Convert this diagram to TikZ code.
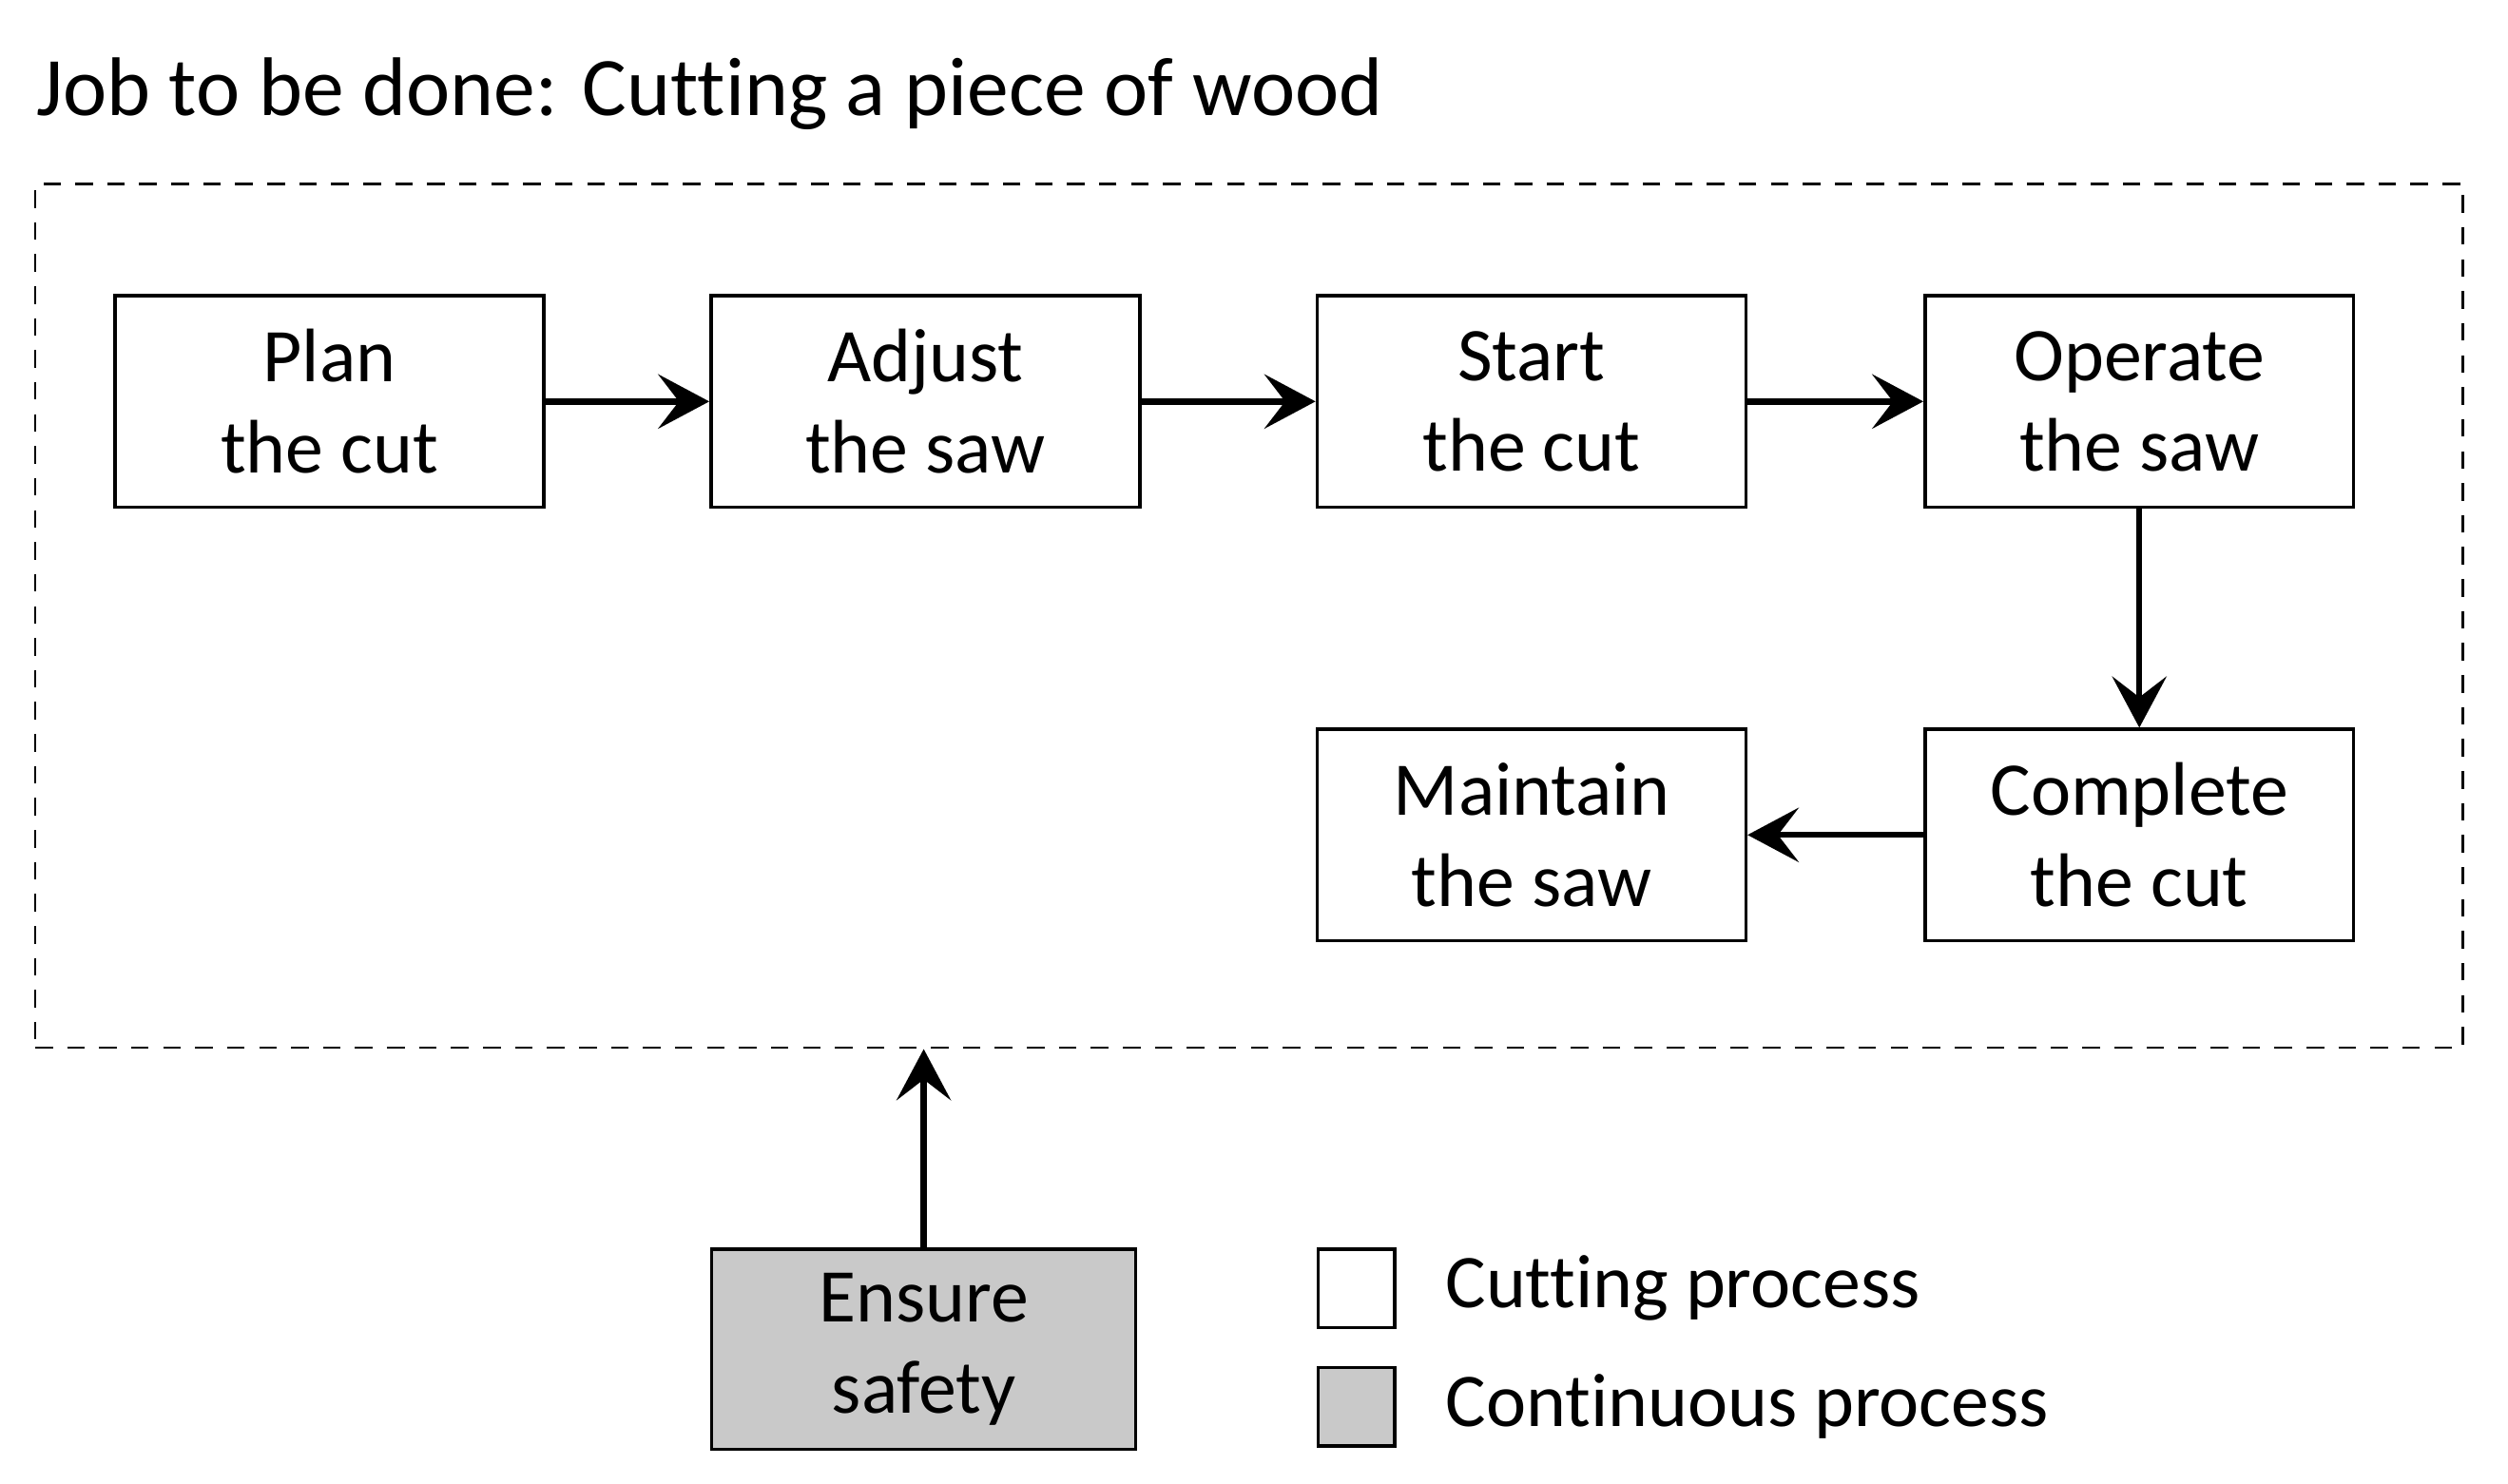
\documentclass[tikz,border=0pt]{standalone}
\usepackage{fontspec}
\setmainfont{Carlito}[Ligatures=NoCommon]
\usetikzlibrary{arrows.meta,positioning}
\definecolor{safetygray}{gray}{0.79}
\tikzset{
    procbox/.style={shape=rectangle,draw=black,line width=0.6pt,minimum width=2.68cm,minimum height=1.32cm,
        align=center,inner sep=0pt,font=\fontsize{13.5}{16.2}\selectfont},
    flow/.style={-{Stealth[length=3.2mm,width=3.4mm,inset=1.3mm]},line width=1.1pt},
    keytext/.style={inner sep=0pt,font=\fontsize{13.5}{16.2}\selectfont},
}
\begin{document}
\begin{tikzpicture}
            \useasboundingbox (0,0) rectangle (15.68,-9.278);

            \node[anchor=base west,inner sep=0pt,font=\fontsize{14.8}{18}\selectfont] (title) at (0.22,-0.72) {Job to be done: Cutting a piece of wood};
            \node[draw=black,dash pattern=on 0.11cm off 0.09cm,line width=0.5pt,minimum width=15.18cm,minimum height=5.4cm,inner sep=0pt] (frame) at (7.81,-3.85) {};

            \node[procbox] (plan) at (2.06,-2.51) {Plan\\the cut};
            \node[procbox] (adjust) at (5.785,-2.51) {Adjust\\the saw};
            \node[procbox] (start) at (9.575,-2.51) {Start\\the cut};
            \node[procbox] (operate) at (13.375,-2.51) {Operate\\the saw};
            \node[procbox] (complete) at (13.375,-5.22) {Complete\\the cut};
            \node[procbox] (maintain) at (9.575,-5.22) {Maintain\\the saw};
            \node[procbox,fill=safetygray,minimum width=2.65cm,minimum height=1.25cm] (safety) at (5.775,-8.435) {Ensure\\safety};

            % legend
            \node[procbox,minimum width=0.48cm,minimum height=0.49cm] (keycut) at (8.48,-8.055) {};
            \node[procbox,fill=safetygray,minimum width=0.48cm,minimum height=0.49cm] (keycont) at (8.48,-8.795) {};
            \node[keytext,right=0.3cm of keycut] (cuttext) {Cutting process};
            \node[keytext,right=0.3cm of keycont] (conttext) {Continuous process};

            \path [flow] (plan) edge (adjust);
            \path [flow] (adjust) edge (start);
            \path [flow] (start) edge (operate);
            \path [flow] (operate) edge (complete);
            \path [flow] (complete) edge (maintain);
            \draw [flow] (safety.north) -- (safety.north |- frame.south);
        \end{tikzpicture}
\end{document}
